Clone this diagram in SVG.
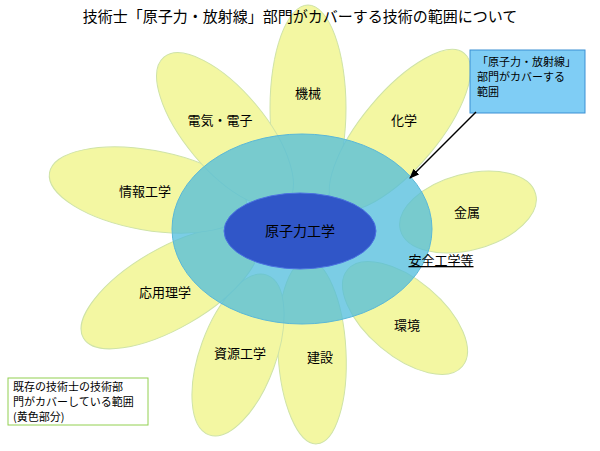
<svg xmlns="http://www.w3.org/2000/svg" width="600" height="451" viewBox="0 0 600 451">
<style>
text{font-family:"Noto Sans CJK JP","Noto Sans CJK SC",sans-serif;fill:#000}
.p{fill:#f3f7a2;stroke:#cfe3a6;stroke-width:1}
.l{font-size:13px;text-anchor:middle}
.s{font-size:11px}
</style>
<defs><marker id="ah" markerWidth="10" markerHeight="8" refX="9" refY="4" orient="auto" markerUnits="userSpaceOnUse"><path d="M0,0L10,4L0,8z" fill="#000"/></marker></defs>
<rect width="600" height="451" fill="#fff"/>
<g id="petals">
<ellipse class="p" cx="308" cy="108" rx="38" ry="103"/>
<ellipse class="p" cx="400" cy="130" rx="38" ry="100" transform="rotate(40 400 130)"/>
<ellipse class="p" cx="468" cy="212" rx="38" ry="70" transform="rotate(75 468 212)"/>
<ellipse class="p" cx="405" cy="318" rx="38" ry="75" transform="rotate(130 405 318)"/>
<ellipse class="p" cx="312" cy="352" rx="34" ry="92" transform="rotate(-3 312 352)"/>
<ellipse class="p" cx="238" cy="355" rx="38" ry="85" transform="rotate(20 238 355)"/>
<ellipse class="p" cx="170" cy="288" rx="40" ry="100" transform="rotate(60 170 288)"/>
<ellipse class="p" cx="148" cy="190" rx="40" ry="100" transform="rotate(100 148 190)"/>
<ellipse class="p" cx="225" cy="130" rx="40" ry="95" transform="rotate(-40 225 130)"/>
</g>
<g id="nuclear-range"><ellipse cx="302" cy="229" rx="130" ry="95" fill="#4fbcdc" fill-opacity="0.75" stroke="#5ab8d8"/></g>
<g id="core"><ellipse cx="300" cy="231" rx="76" ry="38" fill="#3056c8" stroke="#4a70e0"/>
<text class="l" x="300" y="236" style="font-size:14px">原子力工学</text></g>
<g id="labels">
<text class="l" x="308" y="98">機械</text>
<text class="l" x="404" y="125">化学</text>
<text class="l" x="467" y="217">金属</text>
<text class="l" x="407" y="330">環境</text>
<text class="l" x="320" y="362">建設</text>
<text class="l" x="240" y="358">資源工学</text>
<text class="l" x="165" y="297">応用理学</text>
<text class="l" x="145" y="196">情報工学</text>
<text class="l" x="220" y="125">電気・電子</text>
<text class="l" x="441" y="265" text-decoration="underline">安全工学等</text>
</g>
<text x="300" y="22" text-anchor="middle" style="font-size:15px">技術士「原子力・放射線」部門がカバーする技術の範囲について</text>
<g id="callout">
<rect x="470" y="50" width="115" height="63" fill="#7fcdf5" stroke="#3b8fd4"/>
<text class="s" x="477" y="66">「原子力・放射線」</text>
<text class="s" x="477" y="81">部門がカバーする</text>
<text class="s" x="477" y="96">範囲</text>
</g>
<g id="connectors"><line x1="476" y1="112" x2="410" y2="178" stroke="#000" stroke-width="1.5" marker-end="url(#ah)"/></g>
<g id="legend">
<rect x="8" y="378" width="140" height="47" fill="#fff" stroke="#92d050"/>
<text class="s" x="13" y="391">既存の技術士の技術部</text>
<text class="s" x="13" y="406">門がカバーしている範囲</text>
<text class="s" x="13" y="421">(黄色部分)</text>
</g>
</svg>
